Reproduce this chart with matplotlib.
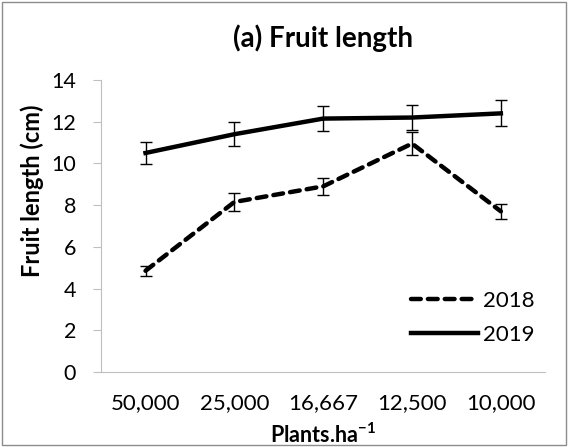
import matplotlib
matplotlib.use("Agg")
import matplotlib.pyplot as plt
from matplotlib.patches import Rectangle

plt.rcParams['font.family'] = ['Lato', 'DejaVu Sans']
plt.rcParams['mathtext.fontset'] = 'custom'
plt.rcParams['mathtext.bf'] = 'Lato:bold'
plt.rcParams['mathtext.rm'] = 'Lato:bold'

# data
densities = ['50,000', '25,000', '16,667', '12,500', '10,000']
len_2018 = [4.85, 8.15, 8.9, 10.95, 7.7]
err_2018 = [0.23, 0.42, 0.42, 0.56, 0.36]
len_2019 = [10.5, 11.4, 12.15, 12.2, 12.4]
err_2019 = [0.54, 0.57, 0.58, 0.6, 0.62]

fig = plt.figure(figsize=(5.68, 4.47), dpi=100)
ax = fig.add_axes([0.178, 0.168, 0.782, 0.653])

x = list(range(len(densities)))

ax.errorbar(x, len_2018, yerr=err_2018, color='black', lw=3.2,
            linestyle=(0, (2.2, 1.6)), dash_capstyle='round',
            ecolor='black', elinewidth=1, capsize=4, capthick=1, label='2018')
ax.errorbar(x, len_2019, yerr=err_2019, color='black', lw=3.2,
            ecolor='black', elinewidth=1, capsize=4, capthick=1, label='2019')

ax.set_xlim(-0.5, 4.5)
ax.set_ylim(0, 14)
ax.set_yticks(range(0, 15, 2))
ax.set_xticks(x)
ax.set_xticklabels(densities)
ax.tick_params(axis='x', length=0, labelsize=16, pad=15)
ax.tick_params(axis='y', length=6, color='#bfbfbf', labelsize=15.5, pad=12)

for s in ['top', 'right']:
    ax.spines[s].set_visible(False)
for s in ['left', 'bottom']:
    ax.spines[s].set_color('#bfbfbf')

ax.set_title('(a) Fruit length', fontsize=20, fontweight='bold', pad=24)
ax.set_xlabel('Plants.ha$^{-1}$', fontsize=15.5, fontweight='bold')
ax.xaxis.set_label_coords(0.5, -0.175)
ax.set_ylabel('Fruit length (cm)', fontsize=17, fontweight='bold')
ax.yaxis.set_label_coords(-0.128, 0.62)

h, l = ax.get_legend_handles_labels()
h = [hh[0] for hh in h]
ax.legend(h, l, loc='lower right', bbox_to_anchor=(1.02, 0.025), frameon=False,
          fontsize=16, handlelength=3.0, handletextpad=0.2, labelspacing=0.6)

fig.patches.append(Rectangle((0.004, 0.004), 0.992, 0.992, transform=fig.transFigure,
                             fill=False, edgecolor='#8c8c8c', lw=1))

fig.savefig('out.png', dpi=100)
